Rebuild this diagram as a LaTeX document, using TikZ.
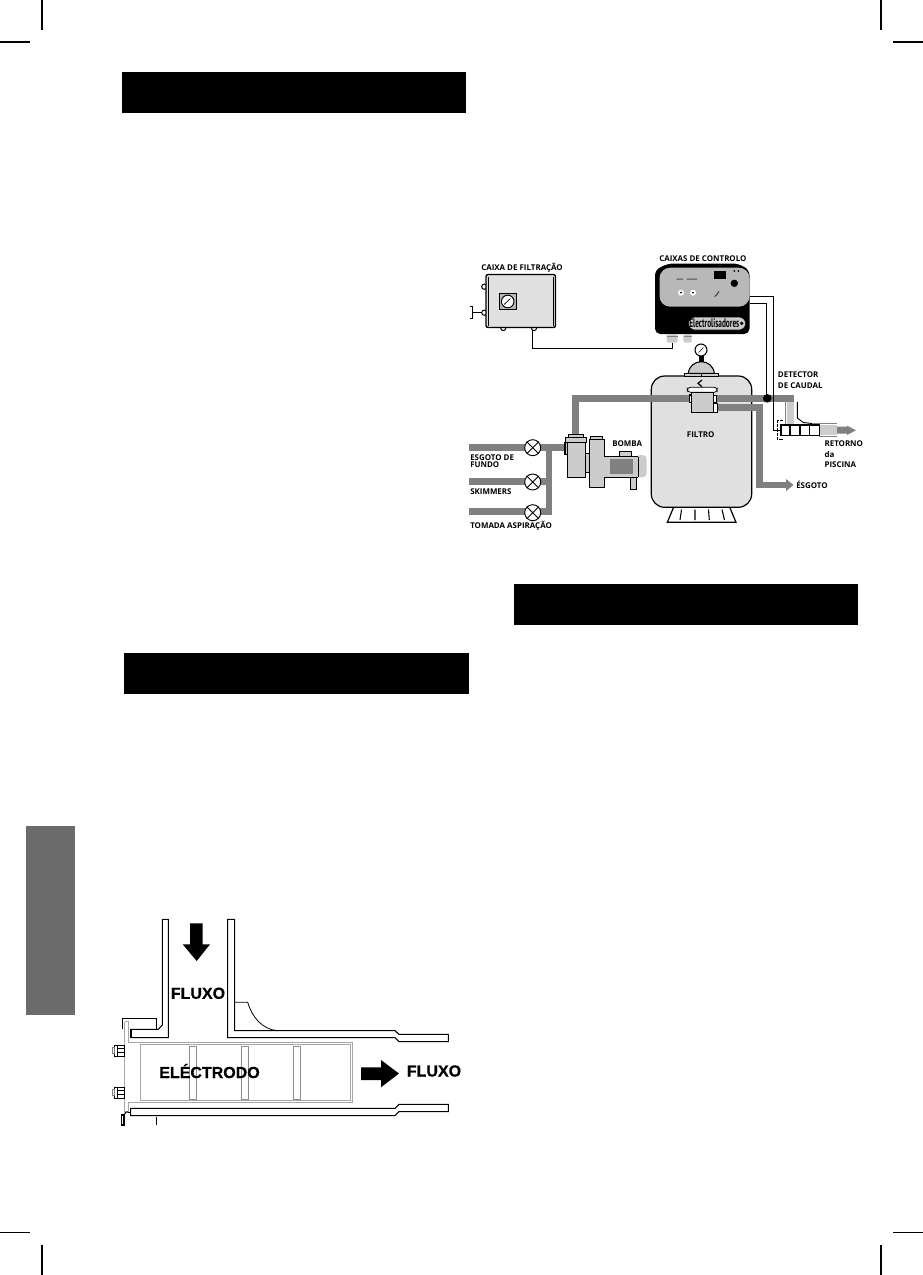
\documentclass[tikz,border=0pt]{standalone}
\usepackage{graphicx}
\usepackage{fontspec}
\setmainfont{Open Sans}
\newfontfamily\hel[FakeBold=0.5]{Liberation Sans Bold}
\newfontfamily\narrowf{PT Sans}
\definecolor{pipe}{gray}{0.5}
\definecolor{lite}{gray}{0.8}
\definecolor{body}{gray}{0.88}
\definecolor{panel}{gray}{0.72}
\definecolor{tabg}{gray}{0.42}
\tikzset{
  x=0.75pt,y=-0.75pt,
  crop/.style={line width=1pt},
  hdr/.style={fill=black,draw=none},
  pipeline/.style={draw=pipe,line width=5.2pt},
  part/.style={draw=black,line width=0.8pt,fill=lite},
  wire/.style={draw=black,line width=0.75pt},
  lab/.style={font=\fontsize{5.95}{6.5}\selectfont\bfseries,inner sep=0pt,anchor=west,align=left},
  big/.style={font=\hel\fontsize{12}{13}\selectfont,inner sep=0pt},
  plate/.style={draw=black,line width=0.8pt,fill=white},
  grayline/.style={draw=gray!70,line width=0.6pt},
  ribbar/.style={draw=gray!90,line width=0.6pt},
  valve/.style={circle,draw=black,line width=0.7pt,fill=white,minimum size=12pt,inner sep=0pt},
}
\begin{document}
\begin{tikzpicture}
\useasboundingbox (0,0) rectangle (923,1275);
\fill[white] (0,0) rectangle (923,1275);
% crop marks
\draw[crop] (42,0)--(42,30) (881,0)--(881,30) (42,1245)--(42,1275) (881,1245)--(881,1275);
\draw[crop] (0,42)--(30,42) (893,42)--(923,42) (0,1232.5)--(30,1232.5) (893,1232.5)--(923,1232.5);
% header bars
\fill[hdr] (122,72) rectangle (466,113);
\fill[hdr] (514,584) rectangle (858,625);
\fill[hdr] (124,653) rectangle (469,694);
\fill[tabg] (26,826) rectangle (75,1015);
% ---- filtration box
\draw[wire,fill=white] (484.3,286.7) circle (2.6);
\draw[wire,fill=white] (484.3,312.7) circle (2.6);
\draw[wire,fill=white] (503.3,328) circle (2.6);
\draw[wire,fill=white] (534,328) circle (2.6);
\draw[draw=black,line width=1pt,fill=body,rounded corners=1.5pt] (486,274.5) rectangle (555.5,327.5);
\draw[draw=black,line width=0.6pt] (488,276.5) -- (488,325.5) (553.5,276.5) -- (553.5,325.5);
\draw[draw=black,line width=0.6pt,fill=panel] (499.5,293.5) rectangle (516,309.5);
\draw[draw=black,line width=0.7pt,fill=white] (507.7,301.5) circle (6.3);
\draw[black,line width=0.5pt] (504,304.5) -- (510.5,298.5);
\draw[wire] (469.5,306.7) -- (472.7,306.7) -- (472.7,318.3) -- (469.5,318.3);
\draw[wire] (472.7,312.7) -- (482,312.7);
\coordinate (fbout) at (532.5,330);
\coordinate (cbin) at (672.7,343);
\draw[wire] (fbout) -- (532.5,348.3) -- (672.7,348.3) -- (cbin);
% ---- control box
\fill[black,rounded corners=4pt] (655,270) -- (668,263.5) -- (738,263.5) -- (749.5,270) -- (749.5,334) -- (655,334) -- cycle;
\fill[panel,rounded corners=8pt] (659.5,267.7) -- (749.5,267.7) -- (749.5,306.7) -- (659.5,306.7) -- cycle;
\fill[black] (714,271) rectangle (726,279);
\fill[black] (734.3,283.3) circle (3.7);
\fill[black] (734.3,271) circle (1) (738.3,271) circle (1);
\fill[black!70] (676.5,278.7) rectangle (683,279.5) (686.5,278.7) rectangle (697,279.5);
\fill[white] (681,292.7) circle (3);
\fill[black] (681,292.7) circle (1);
\fill[white] (693,292.7) circle (3);
\fill[black] (693,292.7) circle (1);
\draw[black!80,line width=0.7pt] (719,291.5) -- (716,295.5) -- (714.5,296.5);
\draw[draw=black,line width=0.4pt,fill=lite,rounded corners=5pt] (688.3,317) rectangle (745.7,330);
\node[inner sep=0pt] (elec) at (714.3,323.5) {\resizebox{37.5pt}{6.6pt}{\narrowf\bfseries Electrolisadores}};
\fill[black] (741.7,323.3) circle (1.8);
\fill[lite,rounded corners=1.5pt] (666.7,334) rectangle (677.7,342.7);
\fill[lite,rounded corners=1.5pt] (683.3,334) rectangle (691.7,342.7);
\draw[gray,line width=0.4pt] (667,336.5)--(677.5,336.5) (683.5,336.5)--(691.5,336.5);
% ---- filter tank
\draw[draw=black,line width=0.9pt,fill=body,rounded corners=10pt] (651.3,376) rectangle (751.7,507.3);
\draw[black,line width=0.9pt] (673.3,508) -- (667.3,522.3) -- (736,522.3) -- (730,508);
\draw[black,line width=0.8pt] (681.5,509.5)--(680,520) (695,509.5)--(695,520) (708.5,509.5)--(709.3,520) (722,509.5)--(724.5,520);
% dome + gauge
\draw[draw=black,line width=0.8pt,fill=lite] (688.3,373.3) .. controls (689,366) and (695,361.7) .. (701.3,361.7) .. controls (707.6,361.7) and (713.6,366) .. (714.3,373.3) -- cycle;
\draw[draw=black,line width=0.7pt,fill=lite] (684.3,373.3) rectangle (718.7,376.3);
\draw[black,line width=0.6pt] (701.5,373.3)--(701.5,376.3);
\fill[black] (699,356) rectangle (703.5,361.7);
\draw[draw=black,line width=0.8pt,fill=white] (701,350) circle (6);
\draw[black,line width=0.5pt] (698.5,352.5) -- (703.5,347.5);
% filter top: valve
\draw[draw=black,line width=0.9pt] (702,380) -- (698,383.3) -- (702,386.7);
\draw[draw=black,line width=0.6pt,fill=white,rounded corners=2.4pt] (687.3,387.3) rectangle (717.3,392.3);
% pipes
\draw[pipeline] (575.5,436) -- (575.5,398.7) -- (794,398.7);
\draw[pipeline] (717,407.7) -- (759.5,407.7) -- (759.5,485) -- (787,485);
\fill[pipe] (786,479) -- (793.5,485) -- (786,491) -- cycle;
\draw[pipeline] (469,447.4) -- (566,447.4);
\draw[pipeline] (469,481.3) -- (549,481.3);
\draw[pipeline] (469,511.5) -- (552.3,511.5);
\draw[pipeline] (549,444) -- (549,515);
% valve on filter
\draw[draw=black,line width=0.8pt,fill=white] (689.3,395) rectangle (691.5,402.7);
\draw[draw=black,line width=0.8pt,fill=white] (713.3,395.7) rectangle (716.7,402.3);
\draw[draw=black,line width=0.8pt,fill=white] (713.3,403.3) rectangle (717.7,412.7);
\draw[draw=black,line width=0.9pt,fill=lite] (691.3,392.7) rectangle (713.3,412.7);
% valves
\foreach \n/\yy in {va/447.7,vb/482,vc/512.7}{
  \node[valve] (\n) at (532.7,\yy) {};
  \draw[black,line width=0.7pt] (\n.45) -- (\n.225) (\n.135) -- (\n.315);
}
% pump
\draw[part] (565,442.7) rectangle (567.7,454.3);
\draw[part] (568.3,434.3) rectangle (583.3,438);
\draw[part] (565.7,437.7) rectangle (586.7,442.7);
\draw[part] (567.7,442.7) rectangle (585.7,477.3);
\draw[part] (585.7,453.3) rectangle (589.3,472.3);
\draw[part] (590.3,436.7) rectangle (602.7,439.5);
\draw[part] (589.3,439.3) rectangle (604.3,487.3);
\draw[part] (619.3,451.7) rectangle (631.7,456.7);
\fill[lite,rounded corners=3pt] (636,455) rectangle (646.7,477.3);
\draw[draw=black,line width=0.6pt] (638.3,456.7) -- (638.3,477.3);
\fill[lite] (604.3,456.7) rectangle (638.3,477.3);
\draw[black,line width=0.8pt] (604.3,456.7) -- (638.3,456.7);
\draw[black,line width=0.8pt] (604.3,477.3) -- (638.3,477.3);
\draw[part] (630.3,477.3) rectangle (636.7,489.3);
\fill[pipe] (610,459.3) rectangle (632.7,474);
% flow detector
\fill[lite] (786.7,401.7) rectangle (794,425);
\draw[gray,line width=0.5pt] (785.7,402) -- (785.7,425);
\draw[black,line width=0.7pt] (797.3,402) -- (797.3,418) -- (803.3,422.5) -- (812,423.5);
\draw[gray,line width=0.5pt] (812,423.5) -- (837,423.5) (819,436) -- (837,436);
\fill[lite] (819,425) rectangle (837,435);
\fill[pipe] (837,426.7) -- (847,426.7) -- (847,425.7) -- (856,430.3) -- (847,435) -- (847,433.7) -- (837,433.7) -- cycle;
\draw[black,line width=0.8pt,dash pattern=on 2.5pt off 0.8pt] (783,420.7) -- (777.3,420.7) -- (777.3,439.3) -- (783,439.3);
\draw[black,line width=0.9pt,fill=white] (781,425) rectangle (819.3,435.5);
\draw[black,line width=0.9pt] (790,425)--(790,435.5) (800,425)--(800,435.5) (809.3,425)--(809.3,435.5);
% control wires
\coordinate (cb1) at (749.5,296.7);
\coordinate (cb2) at (749.5,303.3);
\coordinate (det) at (781,430);
\fill[black] (767.3,398.3) circle (4.3);
\draw[wire] (cb1) -- (773.3,296.7) -- (773.3,430) -- (det);
\draw[wire] (cb2) -- (766.5,303.3) -- (766.5,398);
% labels
\node[lab] (l1) at (481,267.7) {CAIXA DE FILTRAÇÃO};
\node[lab] (l2) at (659,258.3) {CAIXAS DE CONTROLO};
\node[lab] (l3) at (777.7,375) {DETECTOR};
\node[lab] (l4) at (777.7,385.7) {DE CAUDAL};
\node[lab] (l5) at (824.3,444) {RETORNO};
\node[lab] (l6) at (824.3,455) {da};
\node[lab] (l7) at (824.3,465) {PISCINA};
\node[lab] (l8) at (612,443.3) {BOMBA};
\node[lab] (l9) at (686.7,434.3) {FILTRO};
\node[lab] (l10) at (796,484.7) {ÉSGOTO};
\node[lab] (l11) at (470,458) {ESGOTO DE};
\node[lab] (l12) at (470,465) {FUNDO};
\node[lab] (l13) at (470,491.7) {SKIMMERS};
\node[lab] (l14) at (470,525.7) {TOMADA ASPIRAÇÃO};
% ---- electrode diagram
\draw[plate] (162.3,919.3) -- (168.3,919.3) -- (168.3,1037.7) -- (130.7,1037.7) -- (130.7,1029.3) -- (158.3,1029.3) -- (162.3,1025) -- cycle;
\draw[plate] (227.7,919.3) -- (234.7,919.3) -- (234.7,1030.7) -- (395,1030.7) -- (399,1034.3) -- (448.3,1034.3) -- (448.3,1041.7) -- (399,1041.7) -- (395,1037.7) -- (227.7,1037.7) -- cycle;
\draw[black,line width=0.6pt] (234.7,1002.3) -- (247.7,1002.3) .. controls (252,1017) and (262,1029) .. (277,1030.7);
\draw[black,line width=0.9pt] (122.7,1029) -- (122.7,1018.3) -- (156.7,1018.3) -- (156.7,1029.3) -- (130.7,1029.3);
\draw[black,line width=1.2pt] (131,1029.5) -- (131,1037.5);
\draw[grayline] (124.7,1021.7) -- (124.7,1112);
\draw[grayline] (124.7,1021.7) -- (128,1021.7) -- (128,1042.3) -- (352.7,1042.3) -- (352.7,1102.7) -- (128,1102.7) -- (128,1112);
\draw[grayline] (140.7,1044.3) rectangle (350.7,1100.7);
\draw[plate] (130.7,1108.3) -- (395,1108.3) -- (399,1104.3) -- (448.3,1104.3) -- (448.3,1111.7) -- (399,1111.7) -- (395,1115.7) -- (130.7,1115.7) -- cycle;
\draw[black,line width=0.7pt] (128,1112) -- (130.7,1112);
\draw[black,line width=0.8pt] (121.5,1115) rectangle (124,1125);
\draw[black,line width=0.8pt] (124,1115) -- (126,1112) -- (128,1112);
\draw[black,line width=0.7pt] (156,1116.5) -- (156,1125);
\draw[ribbar] (189.3,1046) rectangle (196,1099);
\draw[ribbar] (241.3,1046) rectangle (248,1099);
\draw[ribbar] (293.3,1046) rectangle (300.7,1099);
% bolts
\foreach \yy in {1050.5,1092.8}{
  \draw[black,line width=0.7pt] (114,\yy-5.5) rectangle (124.7,\yy+5.5);
  \draw[black,line width=0.6pt] (117.5,\yy-5.5) -- (117.5,\yy+5.5) (117.5,\yy-2) -- (124.7,\yy-2) (117.5,\yy+2) -- (124.7,\yy+2);
  \draw[gray,line width=0.5pt] (112,\yy-3) rectangle (114,\yy+3);
}
\fill[black] (190,923.3) -- (202.7,923.3) -- (202.7,944.3) -- (210,944.3) -- (196.7,961) -- (182.7,944.3) -- (190,944.3) -- cycle;
\fill[black] (361,1067.3) -- (381,1067.3) -- (381,1060) -- (399,1073.5) -- (381,1087.3) -- (381,1080) -- (361,1080) -- cycle;
\node[big] (f1) at (198,993.3) {FLUXO};
\node[big] (f2) at (434,1071) {FLUXO};
\node[big] (el) at (209.5,1071) {ELÉCTRODO};
\end{tikzpicture}
\end{document}
